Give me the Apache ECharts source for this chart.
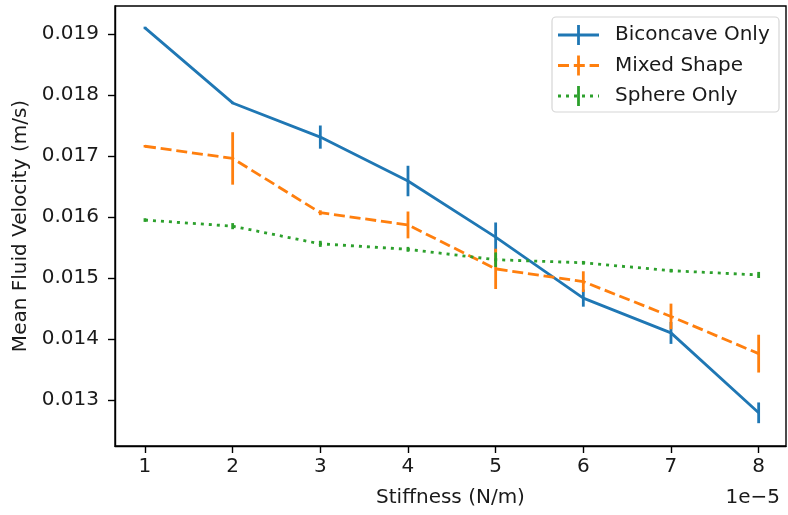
<!DOCTYPE html>
<html>
<head>
<meta charset="utf-8">
<script src="https://cdn.jsdelivr.net/npm/echarts@6/dist/echarts.min.js"></script>
<style>html,body{margin:0;padding:0;background:#fff}#c{width:788px;height:515px}</style>
</head>
<body>
<div id="c"></div>
<script>
const stiffness = [1, 2, 3, 4, 5, 6, 7, 8];
const biconcave = [0.01910, 0.01787, 0.01731, 0.01659, 0.01567, 0.01467, 0.01410, 0.01279];
const biconcaveErr = [0.00002, 0.00002, 0.00019, 0.00025, 0.00024, 0.00014, 0.00018, 0.00017];
const mixed = [0.01716, 0.01696, 0.01607, 0.01587, 0.01515, 0.01494, 0.01437, 0.01376];
const mixedErr = [0.00002, 0.00043, 0.00004, 0.00022, 0.00033, 0.00017, 0.00021, 0.00031];
const sphere = [0.01595, 0.01585, 0.01556, 0.01547, 0.01530, 0.01525, 0.01512, 0.01505];
const sphereErr = [0.00003, 0.00005, 0.00005, 0.00004, 0.00012, 0.00003, 0.00003, 0.00005];
const xTicks = [1, 2, 3, 4, 5, 6, 7, 8];
const yTicks = [0.013, 0.014, 0.015, 0.016, 0.017, 0.018, 0.019];
const seriesNames = ['Biconcave Only', 'Mixed Shape', 'Sphere Only'];

const colors = ['#1f77b4', '#ff7f0e', '#2ca02c'];
const dashes = ['solid', [11, 4.8], [3, 5]];
const FONT = 'DejaVu Sans';
const TXT = '#1a1a1a';
const LW = 2.8;

function lineSeries(name, vals, color, dash) {
  return {
    type: 'line', name: name,
    data: stiffness.map((x, i) => [x, vals[i]]),
    showSymbol: false, symbol: 'none',
    lineStyle: { color: color, width: LW, type: dash, cap: 'butt' },
    itemStyle: { color: color },
    animation: false, z: 2
  };
}
function errSeries(name, vals, errs, color) {
  return {
    type: 'custom', name: name + ' err',
    data: stiffness.map((x, i) => [x, vals[i] - errs[i], vals[i] + errs[i]]),
    renderItem: function (params, api) {
      const p1 = api.coord([api.value(0), api.value(1)]);
      const p2 = api.coord([api.value(0), api.value(2)]);
      return { type: 'line', shape: { x1: p1[0], y1: p1[1], x2: p2[0], y2: p2[1] },
        style: { stroke: color, lineWidth: LW } };
    },
    animation: false, z: 2, silent: true
  };
}

const chart = echarts.init(document.getElementById('c'), null, { renderer: 'canvas' });

const legendItems = [];
const lx = 558, lw = 41, ly0 = 35, ldy = 30.5;
seriesNames.forEach((n, i) => {
  const y = ly0 + i * ldy;
  legendItems.push({ type: 'line', shape: { x1: lx, y1: y, x2: lx + lw, y2: y },
    style: { stroke: colors[i], lineWidth: LW, lineDash: dashes[i] === 'solid' ? null : dashes[i] }, z: 101 });
  legendItems.push({ type: 'line', shape: { x1: lx + lw / 2, y1: y - 10, x2: lx + lw / 2, y2: y + 10 },
    style: { stroke: colors[i], lineWidth: LW }, z: 101 });
  legendItems.push({ type: 'text', x: 615, y: y, style: { text: n, fontFamily: FONT, fontSize: 20,
    fill: TXT, verticalAlign: 'middle', align: 'left' }, z: 101 });
});

chart.setOption({
  backgroundColor: '#fff',
  animation: false,
  grid: { left: 115, top: 6, width: 671, height: 440, containLabel: false, outerBoundsMode: 'none' },
  xAxis: {
    type: 'value', min: 0.658, max: 8.312,
    name: 'Stiffness (N/m)', nameLocation: 'middle', nameGap: 42,
    nameTextStyle: { fontFamily: FONT, fontSize: 20, color: TXT },
    axisLine: { show: true, onZero: false, lineStyle: { color: '#000', width: 1.4 } },
    axisTick: { show: true, length: 7, customValues: xTicks, lineStyle: { color: '#000', width: 1.4 } },
    axisLabel: { customValues: xTicks, fontFamily: FONT, fontSize: 20, color: TXT, margin: 11 },
    splitLine: { show: false }
  },
  yAxis: {
    type: 'value', min: 0.012246, max: 0.019459,
    name: 'Mean Fluid Velocity (m/s)', nameLocation: 'middle', nameGap: 82, nameRotate: 90,
    nameTextStyle: { fontFamily: FONT, fontSize: 20, color: TXT },
    axisLine: { show: true, onZero: false, lineStyle: { color: '#000', width: 1.4 } },
    axisTick: { show: true, length: 7, customValues: yTicks, lineStyle: { color: '#000', width: 1.4 } },
    axisLabel: { customValues: yTicks, fontFamily: FONT, fontSize: 20, color: TXT, margin: 16,
      formatter: v => v.toFixed(3) },
    splitLine: { show: false }
  },
  series: [
    lineSeries(seriesNames[0], biconcave, colors[0], dashes[0]),
    errSeries(seriesNames[0], biconcave, biconcaveErr, colors[0]),
    lineSeries(seriesNames[1], mixed, colors[1], dashes[1]),
    errSeries(seriesNames[1], mixed, mixedErr, colors[1]),
    lineSeries(seriesNames[2], sphere, colors[2], dashes[2]),
    errSeries(seriesNames[2], sphere, sphereErr, colors[2])
  ],
  graphic: [
    { type: 'rect', shape: { x: 115, y: 6, width: 671, height: 440 }, style: { fill: 'none', stroke: '#000', lineWidth: 1.4 }, z: 50, silent: true },
    { type: 'rect', shape: { x: 552, y: 17, width: 227, height: 95, r: 4 },
      style: { fill: 'rgba(255,255,255,0.8)', stroke: '#d6d6d6', lineWidth: 1.2 }, z: 100 },
    ...legendItems,
    { type: 'text', x: 780, y: 498, style: { text: '1e\u22125', fontFamily: FONT, fontSize: 20, fill: TXT,
      align: 'right', verticalAlign: 'middle' }, z: 101 }
  ]
});
</script>
</body>
</html>
